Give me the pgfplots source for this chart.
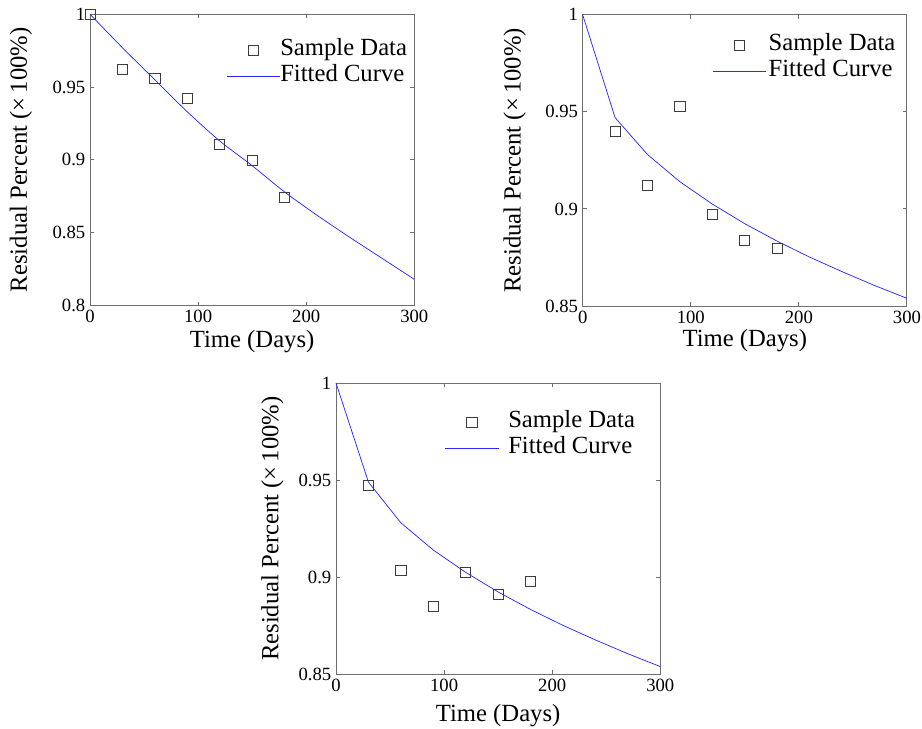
\documentclass[border=0pt]{standalone}
\usepackage{pgfplots}
\pgfplotsset{compat=1.18}
\usepackage{fontspec}
\setmainfont{Liberation Serif}
\definecolor{axgray}{RGB}{110,110,110}
\definecolor{mblue}{RGB}{40,40,255}
\definecolor{mkgray}{RGB}{60,60,60}
\pgfplotsset{
  mstyle/.style={
    scale only axis, width=243.2pt, height=218.5pt,
    xmin=0, xmax=300, xtick={0,100,200,300},
    axis line style={axgray, line width=0.7pt},
    tick style={axgray, line width=0.7pt},
    tick align=inside, major tick length=3pt,
    xtick pos=both, ytick pos=both,
    /pgf/number format/assume math mode=true,
    tick label style={font=\fontsize{14}{16}\selectfont, black},
    xlabel={Time (Days)}, ylabel={Residual Percent (×\,100\%)},
    clip=false,
    legend cell align=left,
    legend style={draw=none, fill=none, inner sep=0pt, row sep=2pt,
      font=\fontsize{18.5}{20}\selectfont,
      nodes={inner sep=0pt, text height=13pt, text depth=4.5pt},
      anchor=north east},
  },
  ylab/.style={every axis y label/.style={at={(axis description cs:0,0.5)}, xshift=#1, rotate=90, anchor=center, font=\fontsize{18.5}{20}\selectfont}},
  xlab/.style={every axis x label/.style={at={(axis description cs:0.5,0)}, yshift=#1, anchor=center, font=\fontsize{18.5}{20}\selectfont}},
  datastyle/.style={only marks, mark=square, mark size=3.8pt,
     mark options={mkgray, line width=0.6pt},
     legend image code/.code={\path (0pt,0pt) (40pt,0pt);
       \draw[mark repeat=2,mark phase=2,##1] plot coordinates {(0pt,0pt)(20pt,0pt)(40pt,0pt)};}},
  curvestyle/.style={mblue, line width=0.55pt, no marks,
     legend image code/.code={\draw[##1] (0pt,0pt) -- (40pt,0pt);}},
}
\begin{document}
\begin{tikzpicture}
\useasboundingbox (0,0) rectangle (691.5pt,546.75pt);
% top-left
\begin{axis}[mstyle, at={(67.5pt,317.6pt)}, anchor=south west,
  ymin=0.8, ymax=1, ytick={0.8,0.85,0.9,0.95,1},
  yticklabels={0.8,0.85,0.9,0.95,1},
  ylab=-51.75pt, xlab=-27pt,
  legend style={at={(axis description cs:1,1)}, xshift=-5.25pt, yshift=-18pt, column sep=0pt}]
\addplot[datastyle] coordinates {(0,1.0) (30,0.962) (60,0.956) (90,0.942) (120,0.9105) (150,0.8995) (180,0.874)};
\addlegendentry{Sample Data}
\addplot[curvestyle, smooth] coordinates {(0,1) (30,0.977) (60,0.955) (90,0.933) (120,0.913) (150,0.896) (180,0.878) (210,0.862) (240,0.847) (270,0.8325) (300,0.818)};
\addlegendentry{Fitted Curve}
\end{axis}
% top-right
\begin{axis}[mstyle, at={(437pt,317.2pt)}, anchor=south west,
  ymin=0.85, ymax=1, ytick={0.85,0.9,0.95,1},
  yticklabels={0.85,0.9,0.95,1},
  ylab=-51pt, xlab=-26pt,
  legend style={at={(axis description cs:1,1)}, xshift=-8.5pt, yshift=-13.75pt, column sep=1.5pt}]
\addplot[datastyle] coordinates {(30,0.940) (60,0.912) (90,0.9526) (120,0.897) (150,0.8837) (180,0.8796)};
\addlegendentry{Sample Data}
\addplot[curvestyle] coordinates {(0,1) (30,0.947) (60,0.928) (90,0.914) (120,0.9025) (150,0.8924) (180,0.8834) (210,0.8752) (240,0.8677) (270,0.8606) (300,0.854)};
\addlegendentry{Fitted Curve}
\end{axis}
% bottom
\begin{axis}[mstyle, at={(252pt,41pt)}, anchor=south west,
  ymin=0.85, ymax=1, ytick={0.85,0.9,0.95,1},
  yticklabels={0.85,0.9,0.95,1},
  ylab=-47.6pt, xlab=-31pt,
  legend style={at={(axis description cs:1,1)}, xshift=-18.75pt, yshift=-20.5pt, column sep=7pt}]
\addplot[datastyle] coordinates {(30,0.9472) (60,0.9037) (90,0.885) (120,0.9025) (150,0.8913) (180,0.8977)};
\addlegendentry{Sample Data}
\addplot[curvestyle] coordinates {(0,1) (30,0.949) (60,0.928) (90,0.914) (120,0.9025) (150,0.8924) (180,0.8834) (210,0.8752) (240,0.8677) (270,0.8606) (300,0.854)};
\addlegendentry{Fitted Curve}
\end{axis}
\end{tikzpicture}
\end{document}
